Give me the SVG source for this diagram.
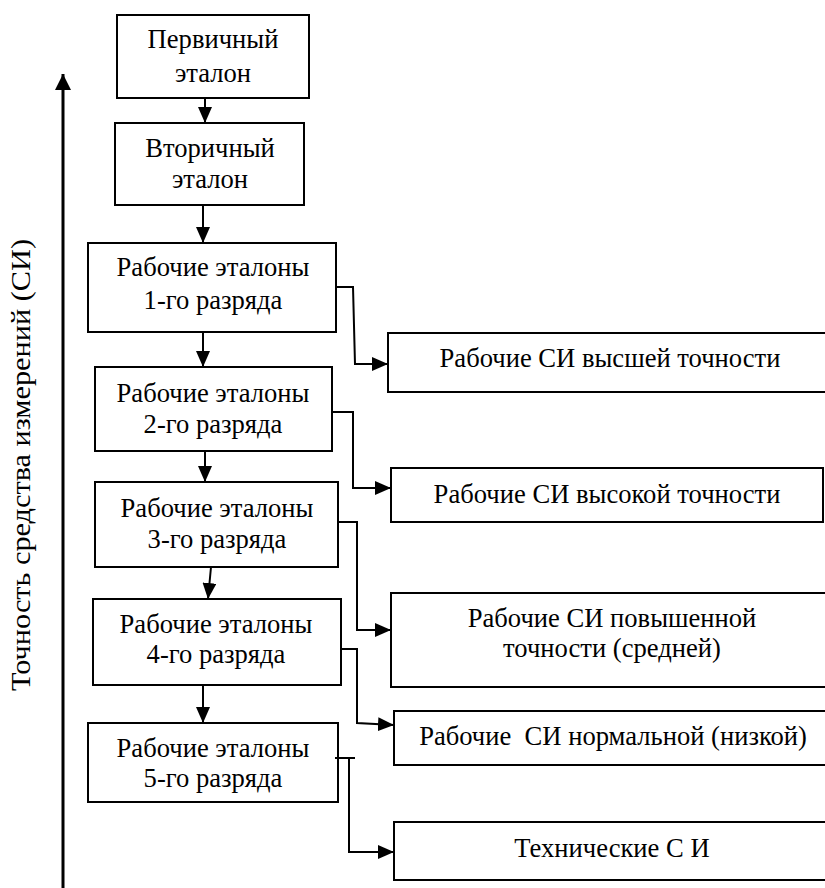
<svg xmlns="http://www.w3.org/2000/svg" width="825" height="888" viewBox="0 0 825 888">
<style>
.box{fill:#fff;stroke:#000;stroke-width:2}
.t{font-family:"Liberation Serif","Times New Roman",serif;font-size:26.6px;fill:#000;text-anchor:middle}
.c{fill:none;stroke:#000;stroke-width:2}
</style>
<defs>
<marker id="ah" markerUnits="userSpaceOnUse" markerWidth="16" markerHeight="14" refX="16" refY="7" orient="auto">
<path d="M0,0 L16,7 L0,14 z" fill="#000"/>
</marker>
<marker id="ax" markerUnits="userSpaceOnUse" markerWidth="16" markerHeight="16" refX="16" refY="8" orient="auto">
<path d="M0,0 L16,8 L0,16 z" fill="#000"/>
</marker>
</defs>
<rect width="825" height="888" fill="#fff"/>
<g id="axis">
<line x1="63" y1="888" x2="63" y2="74" stroke="#000" stroke-width="3" marker-end="url(#ax)"/>
<text class="t" style="font-size:27px" textLength="452" lengthAdjust="spacingAndGlyphs" transform="translate(29.5,465) rotate(-90)">Точность средства измерений (СИ)</text>
</g>
<g id="primary"><rect class="box" x="117" y="15" width="192" height="83"/><text class="t" x="213" y="48">Первичный</text><text class="t" x="213" y="82">эталон</text></g>
<g id="secondary"><rect class="box" x="115" y="123" width="189" height="82"/><text class="t" x="210" y="157">Вторичный</text><text class="t" x="210" y="188">эталон</text></g>
<g id="work1"><rect class="box" x="88" y="243" width="248" height="89"/><text class="t" x="213" y="276">Рабочие эталоны</text><text class="t" x="213" y="309">1-го разряда</text></g>
<g id="work2"><rect class="box" x="95" y="367" width="237" height="84"/><text class="t" x="213" y="402">Рабочие эталоны</text><text class="t" x="213" y="433">2-го разряда</text></g>
<g id="work3"><rect class="box" x="95" y="482" width="243" height="85"/><text class="t" x="217" y="517">Рабочие эталоны</text><text class="t" x="217" y="548">3-го разряда</text></g>
<g id="work4"><rect class="box" x="93" y="599" width="248" height="86"/><text class="t" x="216" y="633">Рабочие эталоны</text><text class="t" x="216" y="663">4-го разряда</text></g>
<g id="work5"><rect class="box" x="88" y="723" width="250" height="79"/><text class="t" x="213" y="757">Рабочие эталоны</text><text class="t" x="213" y="787">5-го разряда</text></g>
<g id="si1"><rect class="box" x="388" y="333" width="445" height="59"/><text class="t" x="610" y="367">Рабочие СИ высшей точности</text></g>
<g id="si2"><rect class="box" x="391" y="468" width="432" height="54"/><text class="t" x="607" y="503">Рабочие СИ высокой точности</text></g>
<g id="si3"><rect class="box" x="391" y="593" width="442" height="94"/><text class="t" x="612" y="627">Рабочие СИ повышенной</text><text class="t" x="612" y="657">точности (средней)</text></g>
<g id="si4"><rect class="box" x="394" y="711" width="439" height="54"/><text class="t" x="613" y="745" xml:space="preserve">Рабочие  СИ нормальной (низкой)</text></g>
<g id="si5"><rect class="box" x="394" y="822" width="439" height="58"/><text class="t" x="612" y="857">Технические С И</text></g>
<g id="connectors">
<line class="c" x1="205" y1="98" x2="205" y2="123" marker-end="url(#ah)"/>
<line class="c" x1="203" y1="205" x2="203" y2="243" marker-end="url(#ah)"/>
<line class="c" x1="203" y1="332" x2="203" y2="367" marker-end="url(#ah)"/>
<line class="c" x1="205" y1="451" x2="205" y2="482" marker-end="url(#ah)"/>
<line class="c" x1="211" y1="567" x2="208" y2="599" marker-end="url(#ah)"/>
<line class="c" x1="203" y1="685" x2="203" y2="723" marker-end="url(#ah)"/>
<path class="c" d="M336,287 H353 L355,364 H388" marker-end="url(#ah)"/>
<path class="c" d="M332,412 H353 V488 H391" marker-end="url(#ah)"/>
<path class="c" d="M338,522 H357 V630 H391" marker-end="url(#ah)"/>
<path class="c" d="M341,649 H357 V723 L394,725" marker-end="url(#ah)"/>
<path class="c" d="M335,758 H355"/>
<path class="c" d="M349,758 V852 H394" marker-end="url(#ah)"/>
</g>
</svg>
